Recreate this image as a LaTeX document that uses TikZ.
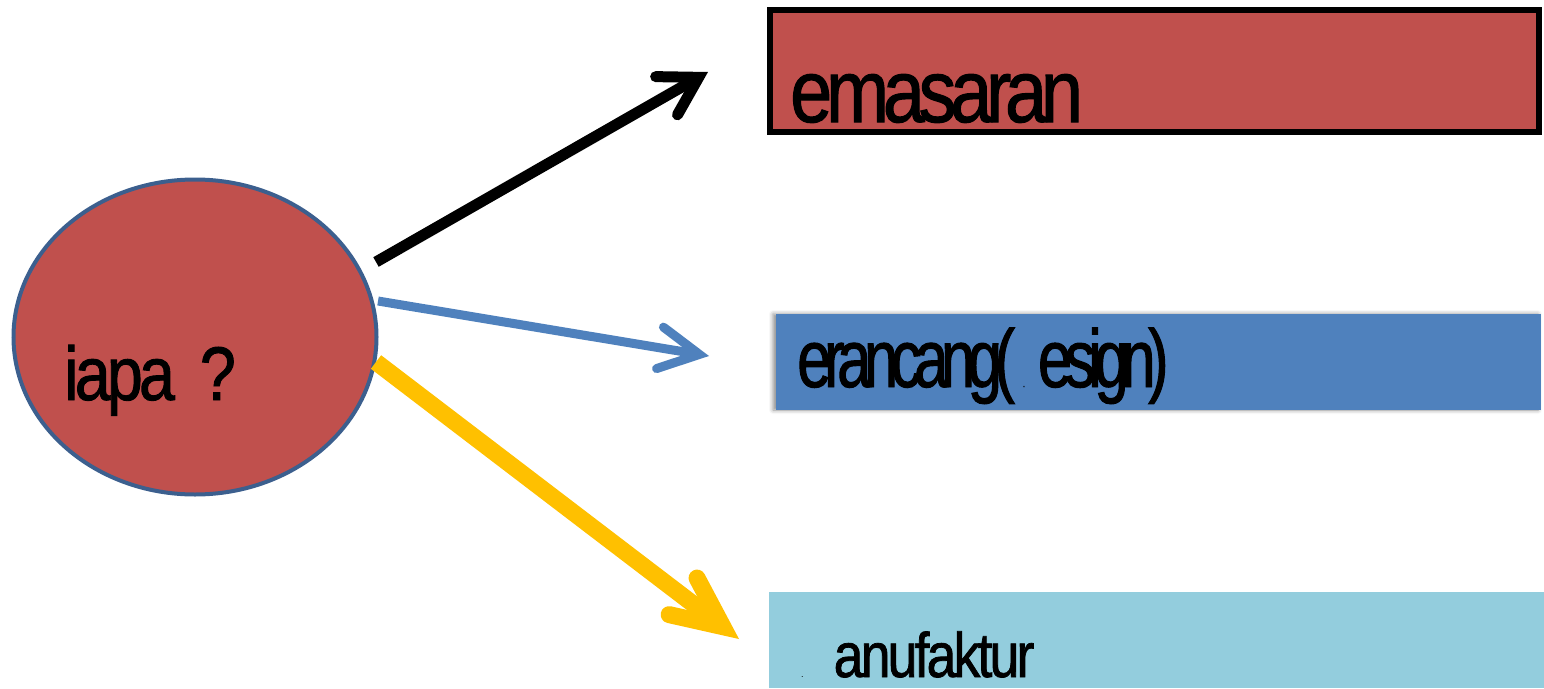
\documentclass[tikz,border=0pt]{standalone}
\usepackage{fontspec}
\setmainfont{Liberation Sans}
\newfontfamily\fA[FakeStretch=0.85, LetterSpace=-7, FakeBold=1.2]{Liberation Sans}
\newfontfamily\fB[FakeStretch=0.75, LetterSpace=-9, FakeBold=1.2]{Liberation Sans}
\newfontfamily\fC[FakeStretch=0.85, LetterSpace=-4.5, FakeBold=1.2]{Liberation Sans}
\newfontfamily\fD[FakeStretch=0.85, LetterSpace=-5, FakeBold=1.2]{Liberation Sans}
\usetikzlibrary{arrows.meta,shapes.geometric,shadows.blur}
\definecolor{cred}{HTML}{C0504D}
\definecolor{cblue}{HTML}{4F81BD}
\definecolor{clight}{HTML}{93CDDD}
\definecolor{cyel}{HTML}{FFC000}
\definecolor{cedge}{HTML}{3C5F8E}
\tikzset{
  box/.style={rectangle, inner sep=0pt, outer sep=0pt},
  lbl/.style={anchor=base west, inner sep=0pt, text=black},
  conn/.style={line cap=butt},
}
\begin{document}
\begin{tikzpicture}[x=1pt,y=-1pt]
\path[use as bounding box] (0,0) rectangle (1544,688);
% boxes
\node[box, draw=black, line width=6pt, fill=cred, minimum width=769pt, minimum height=122pt] (b1) at (1154.5,71) {};
\node[box, fill=cblue, minimum width=765pt, minimum height=96pt,
      blur shadow={shadow xshift=-3pt, shadow yshift=0pt, shadow blur radius=4pt, shadow opacity=45}] (b2) at (1158.5,362) {};
\node[box, fill=clight, minimum width=775pt, minimum height=96pt] (b3) at (1156.5,640) {};
% ellipse
\node[ellipse, draw=cedge, line width=4pt, fill=cred, minimum width=363pt, minimum height=315pt, inner sep=0pt] (who) at (195,337) {};
% labels
\node[lbl] (t0) at (64,400) {\fD\fontsize{76}{76}\selectfont iapa\hspace{25pt}?};
\node[lbl] (t1) at (790,122) {\fA\fontsize{89}{89}\selectfont emasaran};
\node[lbl] (t2) at (797,387) {\fB\fontsize{82}{82}\selectfont erancang(\hspace{8pt}{\fontsize{9}{9}\selectfont .}\hspace{13pt}esign)};
\node[lbl] (t3) at (801,677) {{\fontsize{9}{9}\selectfont .}\hspace{30pt}\fC\fontsize{63}{63}\selectfont anufaktur};
% connector ends
\coordinate (s1) at (376,262); \coordinate (e1) at (708,72);
\coordinate (s2) at (378,301); \coordinate (e2) at (709,356);
\coordinate (s3) at (376,362); \coordinate (e3) at (739,639);
\draw[conn, black, line width=11pt, -{Straight Barb[length=37pt, width=44pt, line cap=round, line join=miter]}] (s1) -- (e1);
\draw[conn, cblue, line width=9pt, -{Straight Barb[length=40pt, width=42pt, line cap=round, line join=miter]}] (s2) -- (e2);
\draw[conn, cyel, line width=17pt, -{Straight Barb[length=50pt, width=46pt, line cap=round, line join=miter]}] (s3) -- (e3);
\end{tikzpicture}
\end{document}
